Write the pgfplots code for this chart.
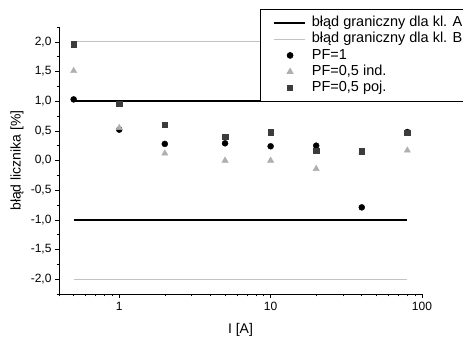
\documentclass[border=0pt]{standalone}
\usepackage{fontspec}
\setmainfont{Liberation Sans}
\usepackage{pgfplots}
\pgfplotsset{compat=1.18}
\definecolor{lgray}{RGB}{195,195,195}
\definecolor{tgray}{RGB}{175,175,175}
\definecolor{sgray}{RGB}{60,60,60}
\pgfplotsset{
  mylineleg/.style={legend image code/.code={\draw[##1] (0pt,0pt) -- (31pt,0pt);}},
  mymarkleg/.style={legend image code/.code={\draw[##1, mark repeat=2, mark phase=2] plot coordinates {(0pt,0pt)(16pt,0pt)(31pt,0pt)};}},
}
\begin{document}
\begin{tikzpicture}[x=1pt,y=1pt]
\begin{axis}[
  at={(59pt,43pt)}, anchor=south west,
  scale only axis, width=363pt, height=267pt,
  xmode=log, xmin=0.4, xmax=100, ymin=-2.25, ymax=2.25,
  axis x line*=bottom, axis y line*=left,
  axis line style={line width=0.8pt, -},
  xtick={1,10,100}, xticklabels={1,10,100},
  minor xtick={0.4,0.5,0.6,0.7,0.8,0.9,2,3,4,5,6,7,8,9,20,30,40,50,60,70,80,90},
  ytick={-2,-1.5,...,2}, minor ytick={-2.25,-1.75,-1.25,-0.75,-0.25,0.25,0.75,1.25,1.75,2.25},
  tick align=outside, tick pos=left,
  major tick length=4pt, minor tick length=2.5pt,
  tick style={black, line width=0.6pt},
  /pgf/number format/assume math mode=true,
  yticklabel style={/pgf/number format/.cd, use comma, fixed, fixed zerofill, precision=1},
  ticklabel style={font=\fontsize{12}{14}\selectfont},
  xticklabel style={yshift=-1pt},
  xlabel={I [A]}, ylabel={błąd licznika [\%]},
  every axis x label/.style={at={(axis description cs:0.5,-0.135)}, anchor=center, font=\fontsize{14}{16}\selectfont},
  every axis y label/.style={at={(axis description cs:-0.116,0.5)}, rotate=90, anchor=center, font=\fontsize{14}{16}\selectfont},
  legend style={at={(0.5537,1.066)}, anchor=north west, draw=black, line width=0.6pt,
    font=\fontsize{14.5}{16}\selectfont, inner xsep=13pt, inner ysep=5pt,
    nodes={inner sep=1pt, text height=11pt, text depth=3.3pt},
    row sep=0pt, column sep=5pt, cells={anchor=west}},
  legend cell align=left,
  clip=false,
]
\addplot[black, line width=1.6pt, mylineleg] coordinates {(0.5,1) (80,1)};
\addlegendentry{błąd graniczny dla kl. A}
\addplot[lgray, line width=1pt, mylineleg] coordinates {(0.5,2) (80,2)};
\addlegendentry{błąd graniczny dla kl. B}
\addplot[black, line width=1.6pt, forget plot] coordinates {(0.5,-1) (80,-1)};
\addplot[lgray, line width=1pt, forget plot] coordinates {(0.5,-2) (80,-2)};
\addplot[only marks, mark=*, mark size=3pt, black, mymarkleg] coordinates {
(0.5,1.03) (1,0.52) (2,0.28) (5,0.29) (10,0.24) (20,0.25) (40,-0.79) (80,0.48)};
\addlegendentry{PF=1}
\addplot[only marks, mark=triangle*, mark size=3.6pt, tgray, mark options={fill=tgray, draw=tgray}, mymarkleg] coordinates {
(0.5,1.51) (1,0.55) (2,0.12) (5,0.0) (10,0.0) (20,-0.14) (40,0.15) (80,0.17)};
\addlegendentry{PF=0,5 ind.}
\addplot[only marks, mark=square*, mark size=2.7pt, sgray, mark options={fill=sgray, draw=sgray}, mymarkleg] coordinates {
(0.5,1.96) (1,0.96) (2,0.60) (5,0.40) (10,0.48) (20,0.17) (40,0.16) (80,0.47)};
\addlegendentry{PF=0,5 poj.}
\end{axis}
\pgfresetboundingbox
\useasboundingbox (0,0) rectangle (463pt,337pt);
\end{tikzpicture}
\end{document}
